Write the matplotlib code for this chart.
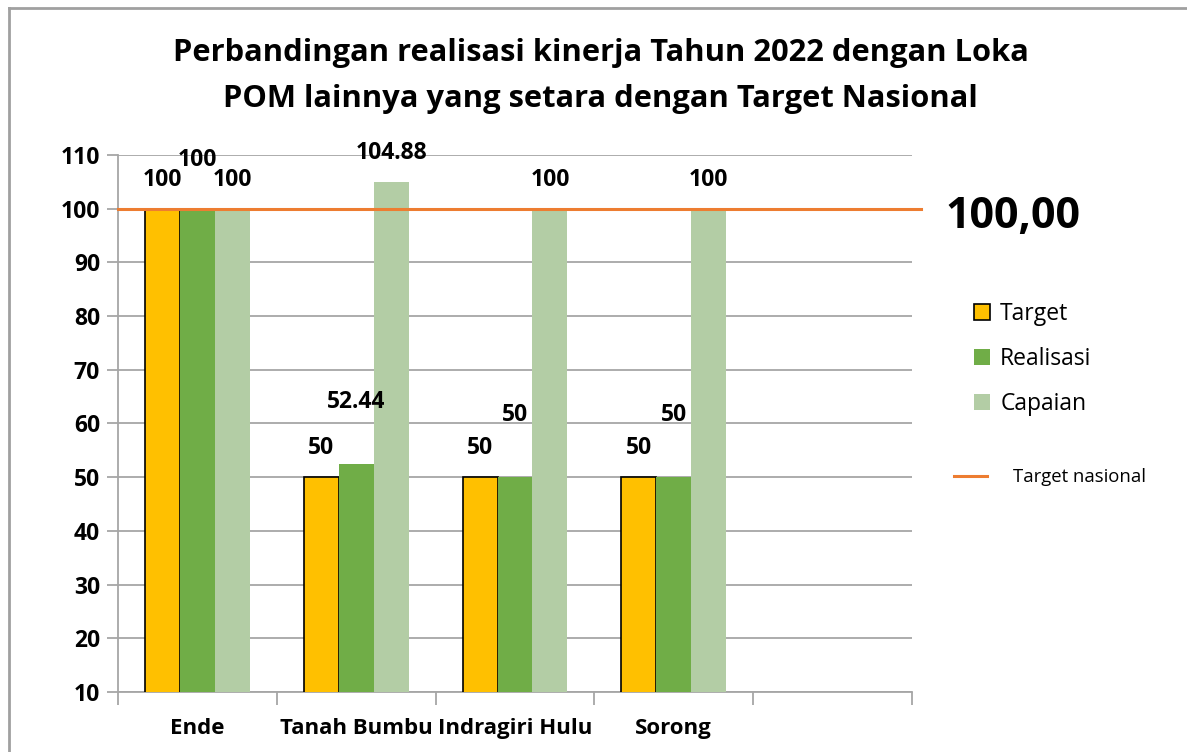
import numpy as np
import matplotlib
matplotlib.use("Agg")
import matplotlib.pyplot as plt
from matplotlib.lines import Line2D
from matplotlib.patches import Patch

plt.rcParams['font.family'] = ['Open Sans', 'DejaVu Sans']

# data
categories = ["Ende", "Tanah Bumbu", "Indragiri Hulu", "Sorong", ""]
target = [100, 50, 50, 50]
realisasi = [100, 52.44, 50, 50]
capaian = [100, 104.88, 100, 100]
target_label = ["100", "50", "50", "50"]
realisasi_label = ["100", "52.44", "50", "50"]
capaian_label = ["100", "104.88", "100", "100"]
target_nasional = 100
y_ticks = list(range(10, 111, 10))

c_target = "#FFC000"
c_real = "#70AD47"
c_cap = "#B3CDA5"
c_line = "#ED7D31"
c_grid = "#A6A6A6"

fig = plt.figure(figsize=(11.87, 7.52), dpi=100)
ax = fig.add_axes([0.0994, 0.0798, 0.6689, 0.7141])

x = np.arange(len(target))
w = 0.22
b1 = ax.bar(x - w, target, w, color=c_target, edgecolor="black", linewidth=1.2, zorder=3)
b2 = ax.bar(x, realisasi, w, color=c_real, linewidth=0, zorder=3)
b3 = ax.bar(x + w, capaian, w, color=c_cap, linewidth=0, zorder=3)

ax.axhline(target_nasional, xmin=0, xmax=1.012, color=c_line, lw=2.2, zorder=4, clip_on=False)

# data labels
lab_kw = dict(textcoords="offset pixels", ha="center", va="center",
              fontsize=16.5, fontweight="bold", color="black", zorder=5)
real_off = [49, 62, 62, 62]
for i in range(len(target)):
    ax.annotate(target_label[i], (x[i] - w, target[i]), xytext=(0, 29), **lab_kw)
    ax.annotate(realisasi_label[i], (x[i], realisasi[i]), xytext=(0, real_off[i]), **lab_kw)
    ax.annotate(capaian_label[i], (x[i] + w, capaian[i]), xytext=(0, 29), **lab_kw)

ax.set_xlim(-0.5, len(categories) - 0.5)
ax.set_ylim(10, 110)
ax.set_yticks(y_ticks)
ax.set_yticklabels([str(v) for v in y_ticks], fontsize=16.5, fontweight="bold")
ax.yaxis.grid(True, color=c_grid, lw=1.3, zorder=0)
ax.tick_params(axis="y", length=8, width=1.3, color=c_grid, pad=5)

ax.set_xticks(np.arange(len(categories) + 1) - 0.5)
ax.set_xticklabels([])
ax.set_xticks(np.arange(len(categories)), minor=True)
ax.set_xticklabels(categories, minor=True, fontsize=16, fontweight="bold")
ax.tick_params(axis="x", which="major", length=9, width=1.3, color=c_grid)
ax.tick_params(axis="x", which="minor", length=0, pad=19)

for s in ["top", "right"]:
    ax.spines[s].set_visible(False)
for s in ["left", "bottom"]:
    ax.spines[s].set_color(c_grid)
    ax.spines[s].set_linewidth(1.3)
ax.set_axisbelow(True)

fig.text(0.506, 1 - 76 / 752, "Perbandingan realisasi kinerja Tahun 2022 dengan Loka\nPOM lainnya yang setara dengan Target Nasional",
         ha="center", va="center", fontsize=22.2, fontweight="bold", linespacing=1.68)

fig.text(1013 / 1187, 1 - 216 / 752, "100,00", ha="center", va="center", fontsize=31, fontweight="bold")

# legend
h_bars = [Patch(facecolor=c_target, edgecolor="black", lw=1.2),
          Patch(facecolor=c_real, lw=0),
          Patch(facecolor=c_cap, lw=0)]
leg1 = fig.legend(h_bars, ["Target", "Realisasi", "Capaian"], loc="center left",
                  bbox_to_anchor=(0.803, 1 - 359 / 752), frameon=False, fontsize=16.5,
                  handlelength=0.7, handleheight=0.7, handletextpad=0.45, labelspacing=0.9)
h_line = [Line2D([0], [0], color=c_line, lw=2.2)]
leg2 = fig.legend(h_line, ["Target nasional"], loc="center left",
                  bbox_to_anchor=(0.79, 1 - 477 / 752), frameon=False, fontsize=13.3,
                  handlelength=1.75, handletextpad=1.45)

# outer frame
fig.add_artist(Line2D([9 / 1187, 1], [1 - 8 / 752, 1 - 8 / 752], color="#A0A0A0", lw=2, transform=fig.transFigure))
fig.add_artist(Line2D([9 / 1187, 9 / 1187], [0, 1 - 8 / 752], color="#A0A0A0", lw=2, transform=fig.transFigure))

fig.savefig("out.png", dpi=100)
